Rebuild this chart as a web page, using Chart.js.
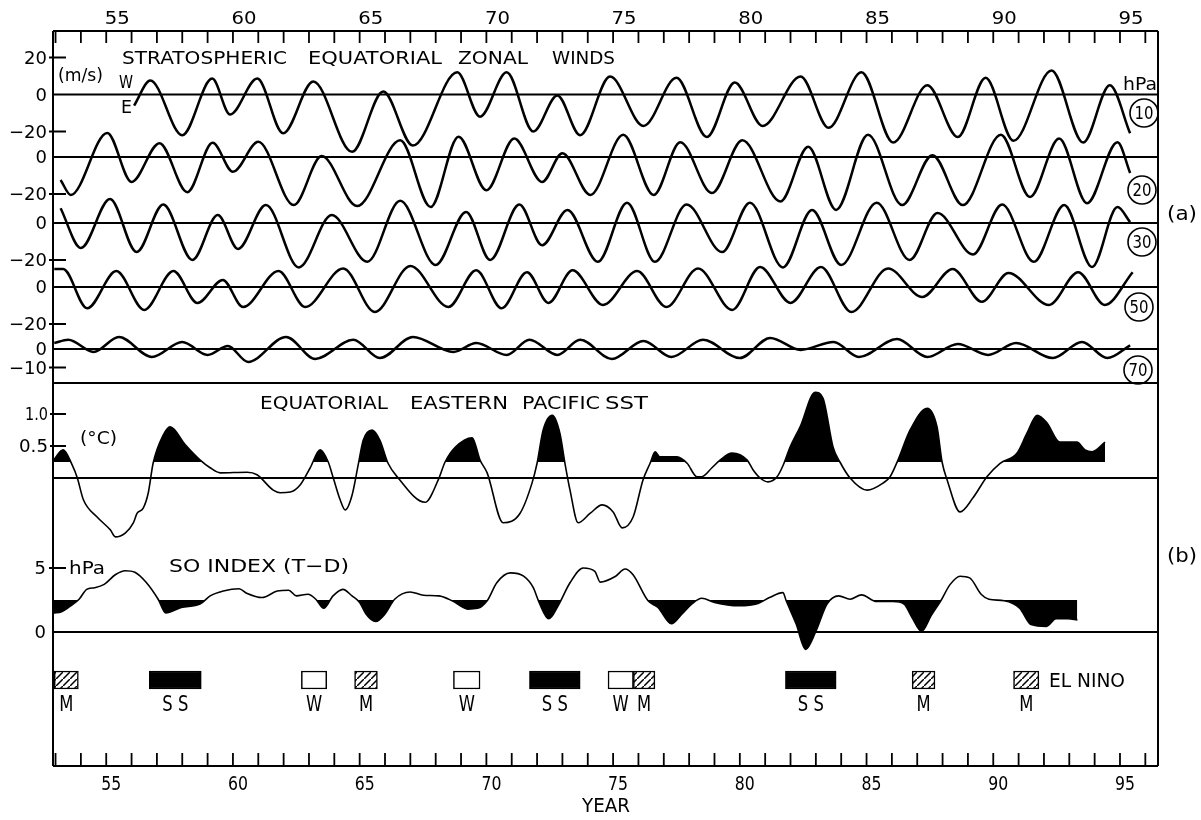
<!DOCTYPE html>
<html>
<head>
<meta charset="utf-8">
<script src="https://cdn.jsdelivr.net/npm/chart.js@4.4.1/dist/chart.umd.min.js"></script>
<style>
  html, body { margin: 0; padding: 0; background: #fff; }
  canvas { display: block; }
</style>
</head>
<body>
<canvas id="chart" width="1201" height="820"></canvas>
<script>
// zonal wind extrema (year, m/s), one pair of arrays per level
const w10Year = [56.1, 56.74, 58.0, 59.18, 59.89, 60.96, 61.98, 63.17, 64.7, 65.93, 67.1, 68.85, 69.75, 70.8, 71.85, 72.8, 73.7, 74.88, 76.2, 77.5, 78.7, 79.8, 80.9, 82.4, 83.5, 84.8, 86.05, 87.4, 88.6, 89.7, 90.8, 92.3, 93.55, 94.6, 95.4];
const w10 = [-6, 7.6, -22, 8.6, -10.8, 8.6, -21, 7, -31, 1.6, -27.6, 12, -12, 12, -20, -0.5, -22, 9.7, -17, 9, -23, 6.5, -17, 9.7, -18, 12, -26, 5, -23, 9, -25, 13, -26, 5, -21];

const w20Year = [53.2, 53.6, 55.04, 56.0, 57.1, 58.2, 59.2, 60.0, 61.0, 62.4, 63.5, 64.9, 66.6, 67.8, 68.9, 70.0, 71.1, 72.2, 73.0, 74.1, 75.4, 76.6, 77.65, 78.9, 80.1, 81.6, 82.7, 83.8, 85.06, 86.4, 87.6, 88.8, 90.3, 91.45, 92.6, 93.7, 94.9, 95.4];
const w20 = [-12.4, -20.5, 13, -13.5, 7.5, -19, 7.7, -8, 8.2, -26, 0.5, -26.5, 9, -27, 11, -18, 10, -13.5, 2, -20.5, 12, -20.5, 8, -19.5, 9, -24, 5.5, -28.6, 12, -26, 1, -26, 12, -21.6, 10, -25, 8, -8.6];

const w30Year = [53.2, 54.0, 55.15, 56.2, 57.25, 58.4, 59.4, 60.2, 61.3, 62.6, 63.9, 65.3, 66.6, 68.0, 69.2, 70.15, 71.3, 72.2, 73.2, 74.4, 75.55, 76.65, 77.9, 79.3, 80.4, 81.7, 82.85, 84.0, 85.4, 86.7, 87.8, 89.2, 90.35, 91.6, 92.8, 93.9, 94.9, 95.4];
const w30 = [8, -13.5, 13, -15.7, 10, -20, 4.3, -14, 9.7, -24, 4.3, -21, 12, -22.7, 6, -20, 10, -12, 7, -21, 11, -21, 10, -15.7, 11, -24, 7, -22.7, 11, -20, 5.4, -17, 10, -21, 9.7, -23.8, 8.6, 0.5];

const w50Year = [52.95, 53.3, 54.25, 55.4, 56.5, 57.65, 58.6, 59.6, 60.4, 61.8, 62.85, 64.35, 65.6, 67.0, 68.5, 69.6, 70.6, 71.6, 72.45, 73.4, 74.6, 75.95, 77.1, 78.35, 79.7, 80.8, 82.0, 83.2, 84.4, 85.85, 87.2, 88.4, 89.55, 90.6, 92.2, 93.35, 94.4, 95.5];
const w50 = [9.7, 9.7, -11.5, 8.6, -12.4, 8.6, -8.6, 3.8, -10.8, 8.6, -10.8, 10, -13.5, 11.4, -10.8, 9, -11.5, 8, -8.6, 9, -9.7, 8.6, -10.8, 10, -12.4, 10.8, -8.6, 10.8, -13.5, 10, -5.4, 9.7, -8, 7.6, -9.7, 8, -9.7, 8];

const w70Year = [52.95, 53.5, 54.5, 55.5, 56.8, 58.0, 59.0, 59.8, 60.6, 62.1, 63.25, 64.75, 65.8, 67.1, 68.7, 69.6, 70.8, 71.7, 72.8, 73.7, 74.95, 76.2, 77.3, 78.55, 80.0, 81.2, 82.4, 83.7, 84.7, 86.2, 87.4, 88.6, 89.8, 90.9, 92.35, 93.5, 94.5, 95.4];
const w70 = [3.2, 5, -1.6, 6.5, -4.3, 3.8, -3.2, 1.6, -7, 6.5, -5.4, 5, -4.9, 6.5, -1.6, 3.2, -3.2, 5, -3.2, 5, -5.4, 4.3, -4.3, 5, -4.9, 6, -0.5, 3.8, -4.3, 5.4, -4.3, 2.7, -3.2, 3.2, -4.9, 3.8, -4.9, 2];

// equatorial eastern Pacific SST (deg C)
const sstYear = [52.92, 53.3, 53.66, 53.86, 54.1, 54.64, 55.16, 55.36, 55.75, 56.07, 56.22, 56.46, 56.66, 56.85, 57.25, 57.52, 58.12, 58.71, 59.1, 59.5, 60.56, 60.95, 61.59, 61.86, 62.26, 62.65, 63.05, 63.44, 63.76, 63.96, 64.23, 64.43, 64.7, 64.94, 65.14, 65.49, 65.8, 66.12, 66.52, 67.58, 68.1, 68.37, 68.77, 69.44, 69.75, 70.03, 70.66, 71.33, 71.8, 72.0, 72.24, 72.6, 72.9, 73.1, 73.3, 73.62, 74.1, 74.57, 75.0, 75.36, 75.79, 76.18, 76.46, 76.66, 76.85, 77.52, 77.92, 78.31, 78.5, 78.9, 79.22, 79.69, 80.29, 80.52, 80.8, 81.11, 81.47, 81.71, 81.98, 82.38, 82.97, 83.28, 83.68, 83.95, 84.35, 85.02, 85.65, 85.93, 86.24, 86.72, 87.39, 87.78, 87.98, 88.18, 88.69, 89.2, 89.75, 90.27, 90.94, 91.33, 91.73, 92.12, 92.63, 93.3, 93.62, 93.9, 94.41];
const sst = [0.28, 0.44, 0.2, 0, -0.34, -0.61, -0.81, -0.92, -0.86, -0.7, -0.55, -0.47, -0.23, 0.23, 0.67, 0.8, 0.52, 0.28, 0.16, 0.08, 0.09, 0.05, -0.19, -0.23, -0.22, -0.11, 0.16, 0.44, 0.25, 0, -0.34, -0.5, -0.27, 0.2, 0.59, 0.75, 0.59, 0.23, 0, -0.38, -0.03, 0.25, 0.48, 0.63, 0.28, 0.08, -0.7, -0.55, -0.08, 0.23, 0.75, 0.98, 0.7, 0.23, -0.19, -0.7, -0.55, -0.42, -0.53, -0.78, -0.61, -0.03, 0.23, 0.41, 0.33, 0.33, 0.23, 0.02, 0.02, 0.16, 0.28, 0.39, 0.28, 0.13, 0, -0.06, 0.02, 0.2, 0.48, 0.8, 1.34, 1.25, 0.48, 0.25, 0, -0.19, -0.08, 0.02, 0.28, 0.75, 1.09, 0.8, 0.25, -0.03, -0.53, -0.31, 0.02, 0.23, 0.39, 0.7, 0.98, 0.86, 0.56, 0.56, 0.44, 0.41, 0.56];
const SST_SHADE = 0.25;

// SO index, Tahiti minus Darwin (hPa)
const soiYear = [52.92, 53.24, 53.6, 53.93, 54.23, 54.54, 54.92, 55.37, 55.75, 56.13, 56.59, 57.05, 57.35, 57.96, 58.7, 59.1, 59.62, 60.24, 60.54, 61.15, 61.75, 62.2, 62.5, 62.96, 63.27, 63.58, 63.95, 64.34, 64.7, 65.0, 65.25, 65.63, 66.0, 66.38, 66.99, 67.52, 68.13, 68.65, 69.27, 69.65, 70.03, 70.41, 70.94, 71.47, 71.85, 72.08, 72.46, 72.83, 73.3, 73.82, 74.28, 74.49, 75.1, 75.47, 75.78, 76.38, 76.77, 77.3, 77.72, 78.1, 78.5, 79.0, 79.96, 80.72, 81.17, 81.7, 81.83, 82.22, 82.6, 82.99, 83.44, 83.9, 84.35, 84.8, 85.4, 86.03, 86.48, 86.79, 87.17, 87.55, 87.93, 88.3, 88.69, 89.07, 89.52, 89.83, 90.43, 91.04, 91.49, 92.1, 92.48, 92.94, 93.32];
const soi = [1.49, 1.59, 2.05, 2.56, 3.33, 3.46, 3.72, 4.49, 4.79, 4.67, 3.85, 2.56, 1.49, 1.92, 2.18, 2.82, 3.2, 3.38, 3.03, 2.69, 3.2, 3.26, 2.82, 2.95, 2.56, 1.85, 2.82, 3.33, 2.82, 2.31, 1.41, 0.82, 1.41, 2.56, 3.13, 2.87, 2.82, 2.44, 1.79, 1.85, 2.44, 3.85, 4.62, 4.36, 3.46, 2.31, 1.03, 2.05, 3.85, 5.0, 4.74, 3.9, 4.36, 4.92, 4.49, 2.44, 1.92, 0.64, 1.41, 2.18, 2.64, 2.31, 2.05, 2.23, 2.69, 3.08, 2.44, 0.64, -1.36, 0, 2.18, 2.82, 2.56, 2.9, 2.38, 2.38, 2.18, 1.15, 0.05, 1.28, 2.44, 3.72, 4.36, 4.23, 2.95, 2.56, 2.44, 1.87, 0.59, 0.44, 1.03, 1.03, 0.95];
const SOI_SHADE = 2.5;

// El Nino events: SS strong, M moderate, W weak
const ninoStart = [52.95, 56.7, 62.7, 64.8, 68.7, 71.7, 74.8, 75.8, 81.8, 86.8, 90.8];
const ninoEnd = [53.9, 58.75, 63.7, 65.7, 69.75, 73.7, 75.8, 76.65, 83.8, 87.7, 91.8];
const ninoKind = ['M', 'SS', 'W', 'M', 'W', 'SS', 'W', 'M', 'SS', 'M', 'M'];

const yearLabels = [55, 60, 65, 70, 75, 80, 85, 90, 95];

// plot frame in canvas pixels
const T = 31, B = 766, L = 53, R = 1158;

function yAxis(zeroPx, pxPerUnit) {
  return { type: 'linear', display: false, offset: false, min: -(B - zeroPx) / pxPerUnit, max: (zeroPx - T) / pxPerUnit };
}

const pts = (xs, ys) => xs.map((v, i) => ({ x: v, y: ys[i] }));

function hatch() {
  const c = document.createElement('canvas');
  c.width = 7; c.height = 7;
  const g = c.getContext('2d');
  g.fillStyle = '#fff'; g.fillRect(0, 0, 7, 7);
  g.strokeStyle = '#000'; g.lineWidth = 1.5;
  g.beginPath();
  g.moveTo(-1, 8); g.lineTo(8, -1);
  g.moveTo(-2, 1); g.lineTo(1, -2);
  g.moveTo(6, 9); g.lineTo(9, 6);
  g.stroke();
  return g.createPattern(c, 'repeat');
}
const hatchFill = hatch();
const kindColor = k => k === 'SS' ? '#000' : k === 'W' ? '#fff' : hatchFill;
const kindText = k => k === 'SS' ? 'S S' : k;

function label(ctx, s, x, y, o) {
  o = Object.assign({ size: 18, align: 'center', w: 0 }, o || {});
  ctx.save();
  ctx.font = o.size + 'px "DejaVu Sans", sans-serif';
  ctx.textBaseline = 'alphabetic';
  ctx.textAlign = o.align;
  const m = ctx.measureText(s).width;
  const sx = o.w ? o.w / m : (o.sx || 1);
  ctx.translate(x, y + o.size * 0.36);
  ctx.scale(sx, 1);
  ctx.fillText(s, 0, 0);
  ctx.restore();
}

const windLine = (id, xs, ys) => ({
  type: 'line', yAxisID: id, data: pts(xs, ys),
  borderColor: '#000', borderWidth: 2.5, pointRadius: 0, fill: false,
  cubicInterpolationMode: 'monotone'
});

const deco = {
  id: 'deco',
  beforeDatasetsDraw(chart) {
    const ctx = chart.ctx, s = chart.scales;
    ctx.save();
    ctx.strokeStyle = '#000';
    const hline = (y, w) => { ctx.lineWidth = w; ctx.beginPath(); ctx.moveTo(L, y); ctx.lineTo(R, y); ctx.stroke(); };
    ['y10', 'y20', 'y30', 'y50', 'y70'].forEach(id => hline(s[id].getPixelForValue(0), 2));
    hline(383, 2);
    hline(s.ySst.getPixelForValue(0), 1.8);
    hline(s.ySoi.getPixelForValue(0), 1.8);
    ctx.restore();
  },
  afterDraw(chart) {
    const ctx = chart.ctx, s = chart.scales, x = s.x;
    ctx.save();
    ctx.strokeStyle = '#000'; ctx.fillStyle = '#000';
    const line = (x1, y1, x2, y2, w) => { ctx.lineWidth = w; ctx.beginPath(); ctx.moveTo(x1, y1); ctx.lineTo(x2, y2); ctx.stroke(); };
    line(L, T, R, T, 2);
    line(L, B, R, B, 2.2);
    line(L, T, L, B, 2);
    line(R, T, R, B, 2);
    for (let yr = 53; yr <= 96; yr++) {
      const px = x.getPixelForValue(yr);
      line(px, T, px, T + 12, 1.8);
      line(px, B, px, B - 13, 1.8);
    }
    yearLabels.forEach(yr => {
      const px = x.getPixelForValue(yr);
      label(ctx, String(yr), px + 11, 18, { w: 25 });
      label(ctx, String(yr), px + 5, 783, { w: 20, size: 19 });
    });
    label(ctx, 'YEAR', 606, 805, { w: 48, size: 20 });

    // wind axis ticks
    const windTicks = [['y10', 20], ['y10', 0], ['y10', -20], ['y20', 0], ['y20', -20], ['y30', 0], ['y30', -20], ['y50', 0], ['y50', -20], ['y70', 0], ['y70', -10]];
    windTicks.forEach(([id, v]) => {
      const py = s[id].getPixelForValue(v);
      const t = v < 0 ? '\u2212' + (-v) : String(v);
      label(ctx, t, 47, py, { align: 'right' });
      if (v !== 0) line(49, py, 66, py, 2);
    });
    [[1.0, '1.0', 23], [0.5, '0.5', 29]].forEach(([v, t, w]) => {
      const py = s.ySst.getPixelForValue(v);
      label(ctx, t, 48, py, { align: 'right', w: w });
      line(50, py, 66, py, 2);
    });
    [[5, '5'], [0, '0']].forEach(([v, t]) => {
      const py = s.ySoi.getPixelForValue(v);
      label(ctx, t, 46, py, { align: 'right' });
      if (v !== 0) line(49, py, 66, py, 2);
    });
    label(ctx, 'hPa', 69, s.ySoi.getPixelForValue(5), { align: 'left', w: 36 });

    // titles
    label(ctx, 'STRATOSPHERIC', 122, 58, { align: 'left', w: 165 });
    label(ctx, 'EQUATORIAL', 308, 58, { align: 'left', w: 134 });
    label(ctx, 'ZONAL', 458, 58, { align: 'left', w: 70 });
    label(ctx, 'WINDS', 552, 58, { align: 'left', w: 63 });
    label(ctx, '(m/s)', 58, 75, { align: 'left', w: 45 });
    label(ctx, 'W', 119, 82, { align: 'left', w: 14, size: 17 });
    label(ctx, 'E', 121, 107, { align: 'left', w: 11, size: 17 });
    label(ctx, 'hPa', 1123, 84, { align: 'left', w: 34 });

    label(ctx, 'EQUATORIAL', 260, 403, { align: 'left', w: 128 });
    label(ctx, 'EASTERN', 410, 403, { align: 'left', w: 98 });
    label(ctx, 'PACIFIC', 522, 403, { align: 'left', w: 78 });
    label(ctx, 'SST', 605, 403, { align: 'left', w: 43 });
    label(ctx, '(\u00b0C)', 80, 438, { align: 'left', w: 37 });

    label(ctx, 'SO INDEX (T\u2212D)', 169, 566, { align: 'left', w: 180 });

    label(ctx, '(a)', 1167, 213, { align: 'left', w: 30, size: 20 });
    label(ctx, '(b)', 1167, 555, { align: 'left', w: 30, size: 20 });

    // circled pressure levels
    [['10', 113, 1144], ['20', 190, 1142], ['30', 242, 1142], ['50', 307, 1139], ['70', 370, 1138]].forEach(([t, cy, cx]) => {
      ctx.lineWidth = 1.6;
      ctx.beginPath(); ctx.arc(cx, cy, 14, 0, Math.PI * 2); ctx.stroke();
      label(ctx, t, cx, cy, { w: 19, size: 17 });
    });

    // El Nino labels under the boxes
    ninoKind.forEach((k, i) => {
      const cx = (x.getPixelForValue(ninoStart[i]) + x.getPixelForValue(ninoEnd[i])) / 2;
      label(ctx, kindText(k), cx, 703, { sx: 0.78, size: 21 });
    });
    label(ctx, 'EL NINO', 1049, 680, { align: 'left', w: 76, size: 20 });
    ctx.restore();
  }
};

new Chart(document.getElementById('chart'), {
  data: {
    datasets: [
      windLine('y10', w10Year, w10),
      windLine('y20', w20Year, w20),
      windLine('y30', w30Year, w30),
      windLine('y50', w50Year, w50),
      windLine('y70', w70Year, w70),
      {
        type: 'line', yAxisID: 'ySst', data: pts(sstYear, sst),
        borderColor: '#000', borderWidth: 1.6, pointRadius: 0, cubicInterpolationMode: 'monotone',
        fill: { target: { value: SST_SHADE }, above: '#000', below: 'rgba(0,0,0,0)' }
      },
      {
        type: 'line', yAxisID: 'ySoi', data: pts(soiYear, soi),
        borderColor: '#000', borderWidth: 1.6, pointRadius: 0, cubicInterpolationMode: 'monotone',
        fill: { target: { value: SOI_SHADE }, above: 'rgba(0,0,0,0)', below: '#000' }
      },
      {
        type: 'bar', indexAxis: 'y', xAxisID: 'x', yAxisID: 'yEv',
        data: ninoStart.map((v, i) => ({ x: [v, ninoEnd[i]], y: 0 })),
        backgroundColor: ninoKind.map(kindColor),
        borderColor: '#000', borderWidth: 1.5, borderSkipped: false,
        barThickness: 18, grouped: false
      }
    ]
  },
  options: {
    responsive: false,
    devicePixelRatio: 1,
    animation: false,
    layout: { padding: { left: L, top: T, right: 1201 - R, bottom: 820 - B } },
    plugins: { legend: { display: false }, tooltip: { enabled: false } },
    scales: {
      x: { type: 'linear', display: false, offset: false, min: 52.9, max: 96.5 },
      y10: yAxis(94.5, 1.85),
      y20: yAxis(157, 1.85),
      y30: yAxis(223, 1.85),
      y50: yAxis(287, 1.85),
      y70: yAxis(349, 1.85),
      ySst: yAxis(478, 64),
      ySoi: yAxis(632, 12.8),
      yEv: yAxis(680, 1)
    }
  },
  plugins: [deco]
});
</script>
</body>
</html>
